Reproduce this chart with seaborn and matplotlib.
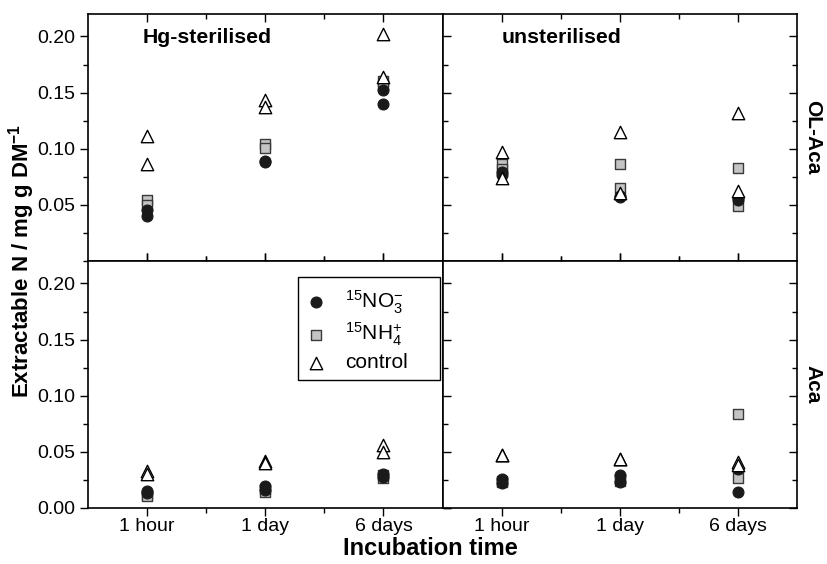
import matplotlib
matplotlib.use("Agg")

import pandas as pd
import matplotlib.pyplot as plt
import seaborn as sns
from matplotlib.patches import Rectangle
from matplotlib.ticker import MultipleLocator, FormatStrFormatter

# ---------------------------------------------------------
# Data, two replicates per time:
# [1 hour, 1 hour, 1 day, 1 day, 6 days, 6 days]
# ---------------------------------------------------------

times = ["1 hour", "1 day", "6 days"]
treatments = ["Hg-sterilised", "unsterilised"]
soils = ["OL-Aca", "Aca"]

no3_hg_olaca = [0.045, 0.040, 0.089, 0.088, 0.152, 0.140]
nh4_hg_olaca = [0.054, 0.050, 0.104, 0.101, 0.160, 0.157]
ctrl_hg_olaca = [0.111, 0.086, 0.143, 0.137, 0.202, 0.164]

no3_un_olaca = [0.079, 0.077, 0.058, 0.057, 0.056, 0.054]
nh4_un_olaca = [0.086, 0.082, 0.086, 0.065, 0.083, 0.049]
ctrl_un_olaca = [0.097, 0.074, 0.115, 0.061, 0.132, 0.062]

no3_hg_aca = [0.015, 0.013, 0.020, 0.016, 0.030, 0.028]
nh4_hg_aca = [0.012, 0.011, 0.017, 0.014, 0.029, 0.027]
ctrl_hg_aca = [0.033, 0.030, 0.042, 0.040, 0.056, 0.050]

no3_un_aca = [0.026, 0.022, 0.029, 0.023, 0.035, 0.014]
nh4_un_aca = [0.024, 0.023, 0.026, 0.024, 0.084, 0.027]
ctrl_un_aca = [0.047, 0.047, 0.044, 0.044, 0.041, 0.038]

panels = {
    ("OL-Aca", "Hg-sterilised"): (no3_hg_olaca, nh4_hg_olaca, ctrl_hg_olaca),
    ("OL-Aca", "unsterilised"): (no3_un_olaca, nh4_un_olaca, ctrl_un_olaca),
    ("Aca", "Hg-sterilised"): (no3_hg_aca, nh4_hg_aca, ctrl_hg_aca),
    ("Aca", "unsterilised"): (no3_un_aca, nh4_un_aca, ctrl_un_aca),
}

series = ["NO3", "NH4", "control"]
rep_times = [t for t in times for _ in range(2)]

rows = []
for (soil, treat), vals in panels.items():
    for name, v in zip(series, vals):
        for t, y in zip(rep_times, v):
            rows.append({"soil": soil, "treatment": treat, "series": name,
                         "time": t, "pos": times.index(t), "value": y})
df = pd.DataFrame(rows)

# ---------------------------------------------------------
# Styling
# ---------------------------------------------------------

sns.set_theme(style="ticks")
plt.rcParams["font.family"] = ["Liberation Sans", "DejaVu Sans"]
plt.rcParams["mathtext.fontset"] = "custom"
plt.rcParams["mathtext.rm"] = "Liberation Sans"
plt.rcParams["mathtext.bf"] = "Liberation Sans:bold"
plt.rcParams["mathtext.it"] = "Liberation Sans:italic"
plt.rcParams["text.color"] = "black"
plt.rcParams["axes.labelcolor"] = "black"
plt.rcParams["xtick.color"] = "black"
plt.rcParams["ytick.color"] = "black"

styles = {
    "NO3": dict(marker="o", s=62, color="#1a1a1a", edgecolor="#1a1a1a",
                linewidth=0.8, zorder=3, label=r"$^{15}$NO$_3^{-}$"),
    "NH4": dict(marker="s", s=44, color="#c4c4c4", edgecolor="#3a3a3a",
                linewidth=1.0, zorder=2, label=r"$^{15}$NH$_4^{+}$"),
    "control": dict(marker="^", s=80, color="white", edgecolor="black",
                    linewidth=1.0, zorder=4, label="control"),
}

fig, axes = plt.subplots(2, 2, figsize=(8.28, 5.64), dpi=100)
fig.subplots_adjust(left=0.1063, right=0.9626, top=0.9752, bottom=0.0993,
                    wspace=0, hspace=0)

for i, soil in enumerate(soils):
    for j, treat in enumerate(treatments):
        ax = axes[i, j]
        sub = df[(df["soil"] == soil) & (df["treatment"] == treat)]
        for name in series:
            sns.scatterplot(data=sub[sub["series"] == name], x="pos", y="value",
                            ax=ax, legend=False, **styles[name])

        ax.set_xlim(-0.5, 2.5)
        ax.set_ylim(0, 0.22)
        ax.set_xlabel("")
        ax.set_ylabel("")
        ax.set_xticks(range(len(times)))
        ax.set_xticks([0.5, 1.5], minor=True)
        if i == 0:
            ax.set_yticks([0.05, 0.10, 0.15, 0.20])
            ax.set_xticklabels([])
            ax.tick_params(axis="x", which="both", direction="in",
                           top=True, bottom=True)
        else:
            ax.set_yticks([0.00, 0.05, 0.10, 0.15, 0.20])
            ax.set_xticklabels(times)
            ax.tick_params(axis="x", which="both", direction="out",
                           top=True, bottom=True, pad=1.5)
        ax.yaxis.set_minor_locator(MultipleLocator(0.025))
        ax.yaxis.set_major_formatter(FormatStrFormatter("%.2f"))
        if j == 0:
            ax.tick_params(axis="y", which="both", direction="out",
                           left=True, right=True)
        else:
            ax.set_yticklabels([])
            ax.tick_params(axis="y", which="both", direction="in",
                           left=True, right=True)
        ax.tick_params(which="major", length=6, width=1.0, labelsize=14)
        ax.tick_params(which="minor", length=3.5, width=1.0)
        for sp in ax.spines.values():
            sp.set_linewidth(1.2)
            sp.set_color("black")

axes[0, 0].text(0.153, 0.905, "Hg-sterilised", transform=axes[0, 0].transAxes,
                ha="left", va="center", fontsize=15.3, fontweight="bold")
axes[0, 1].text(0.166, 0.905, "unsterilised", transform=axes[0, 1].transAxes,
                ha="left", va="center", fontsize=15.3, fontweight="bold")

for i, soil in enumerate(soils):
    axes[i, 1].text(1.045, 0.5, soil, transform=axes[i, 1].transAxes,
                    rotation=270, ha="center", va="center",
                    fontsize=15, fontweight="bold")

# legend: box drawn separately so its padding matches the original
lax = axes[1, 0]
lax.add_patch(Rectangle((0.593, 0.518), 0.401, 0.417, transform=lax.transAxes,
                        facecolor="white", edgecolor="black", linewidth=1.0,
                        zorder=9))
leg = lax.legend(loc="upper left", bbox_to_anchor=(0.613, 0.89),
                 borderaxespad=0, borderpad=0, frameon=False,
                 fontsize=15, handletextpad=0.9, labelspacing=0.25,
                 handlelength=1.0)
leg.set_zorder(10)

fig.text(0.026, 0.537, r"Extractable N / mg g DM$^{\mathbf{-1}}$",
         rotation=90, ha="center", va="center", fontsize=16, fontweight="bold")
fig.text(0.52, 0.028, "Incubation time", ha="center", va="center",
         fontsize=17, fontweight="bold")

plt.savefig("out.png", dpi=100)
plt.close()
